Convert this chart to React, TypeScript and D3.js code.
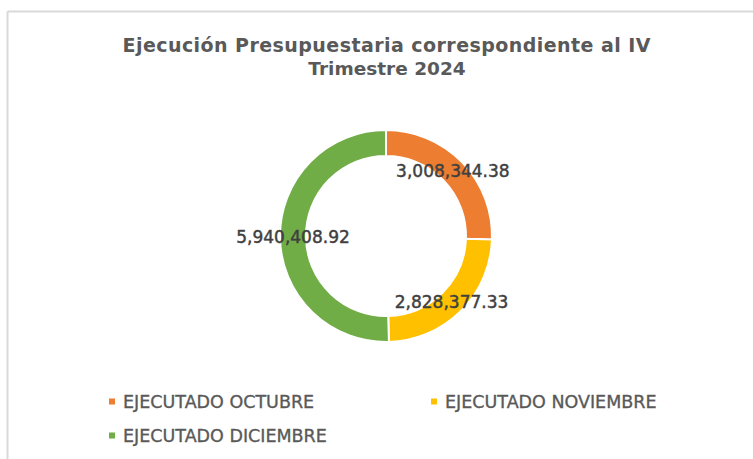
import React from "react";
import * as d3 from "d3";

const titleLines = ["Ejecución  Presupuestaria correspondiente al IV", "Trimestre 2024"];
const categories = ["EJECUTADO OCTUBRE", "EJECUTADO NOVIEMBRE", "EJECUTADO DICIEMBRE"];
const values = [3008344.38, 2828377.33, 5940408.92];
const colors = ["#ED7D31", "#FFC000", "#70AD47"];

const W = 753;
const H = 459;

export default function App() {
  const cx = 386;
  const cy = 236;
  const outerR = 106;
  const innerR = 80;

  const pie = d3
    .pie<number>()
    .sort(null)
    .value((d) => d)
    .startAngle(0)
    .endAngle(2 * Math.PI);
  const arcs = pie(values);
  const arc = d3.arc<d3.PieArcDatum<number>>().innerRadius(innerR).outerRadius(outerR);
  const fmt = d3.format(",.2f");

  const legendPos = [
    { x: 109, y: 401.5 },
    { x: 431, y: 401.5 },
    { x: 109, y: 435.5 },
  ];

  return (
    <svg
      width={W}
      height={H}
      style={{ position: "absolute", left: 0, top: 0, background: "#fff" }}
    >
      <rect x={0} y={0} width={W} height={H} fill="#fff" />
      <line x1={7.5} y1={11.5} x2={W} y2={11.5} stroke="#d9d9d9" strokeWidth={2} />
      <line x1={7.5} y1={11.5} x2={7.5} y2={H} stroke="#d9d9d9" strokeWidth={2} />

      <g
        fontFamily="DejaVu Sans"
        fontWeight="bold"
        fill="#595959"
        textAnchor="middle"
        style={{ whiteSpace: "pre" }}
      >
        <text x={386.5} y={51.5} fontSize={19} textLength={528} lengthAdjust="spacing">
          {titleLines[0]}
        </text>
        <text x={387} y={75} fontSize={18.5}>
          {titleLines[1]}
        </text>
      </g>

      <g transform={`translate(${cx},${cy})`}>
        {arcs.map((a, i) => (
          <path key={i} d={arc(a) || ""} fill={colors[i]} stroke="#fff" strokeWidth={2} />
        ))}
        {arcs.map((a, i) => {
          const [x, y] = arc.centroid(a);
          return (
            <text
              key={"l" + i}
              x={x}
              y={y}
              textAnchor="middle"
              dominantBaseline="central"
              fontFamily="DejaVu Sans"
              fontSize={17}
              fill="#404040"
              stroke="#404040"
              strokeWidth={0.45}
            >
              {fmt(values[i])}
            </text>
          );
        })}
      </g>

      <g fontFamily="DejaVu Sans" fontSize={17.5} fill="#595959" stroke="#595959" strokeWidth={0.35}>
        {categories.map((c, i) => (
          <g key={c} transform={`translate(${legendPos[i].x},${legendPos[i].y})`}>
            <rect x={0} y={-3} width={6} height={6} fill={colors[i]} stroke="none" />
            <text x={14} y={0} dominantBaseline="central">
              {c}
            </text>
          </g>
        ))}
      </g>
    </svg>
  );
}
